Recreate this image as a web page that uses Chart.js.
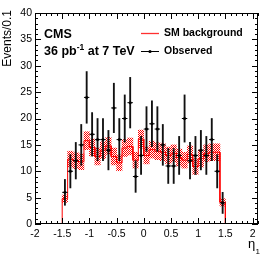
<!DOCTYPE html>
<html>
<head>
<meta charset="utf-8">
<script src="https://cdn.jsdelivr.net/npm/chart.js@4/dist/chart.umd.min.js"></script>
<style>
  html, body { margin: 0; padding: 0; background: #fff; }
  #wrap { width: 269px; height: 258px; position: relative; }
</style>
</head>
<body>
<div id="wrap"><canvas id="c" width="269" height="258"></canvas></div>
<script>
// ---- data ----
const binCenters = [-1.45,-1.35,-1.25,-1.15,-1.05,-0.95,-0.85,-0.75,-0.65,-0.55,
                    -0.45,-0.35,-0.25,-0.15,-0.05, 0.05, 0.15, 0.25, 0.35, 0.45,
                     0.55, 0.65, 0.75, 0.85, 0.95, 1.05, 1.15, 1.25, 1.35, 1.45];
const binWidth = 0.1;
const observed = [6,10,12,15,24,17,16,16,14,22,
                  16,20,23,9,13,18,19,18,15,11,
                  11,13,20,12,13,14,13,16,10,4];
const smBackground = [4.8,12.3,12.0,11.8,15.8,14.5,12.8,14.0,14.8,12.8,
                      11.6,14.4,14.7,12.1,16.1,13.0,14.1,13.8,13.6,13.0,
                      13.4,12.6,12.1,13.2,10.9,12.4,13.4,13.6,13.6,4.1];
const smUncertainty = [0.7,1.5,1.5,1.5,1.7,1.6,1.6,1.6,1.6,1.6,
                       1.5,1.6,1.6,1.5,1.7,1.6,1.6,1.6,1.6,1.6,
                       1.6,1.6,1.5,1.6,1.5,1.6,1.6,1.6,1.6,0.7];
const xLimits = [-2, 2.1];
const yLimits = [0, 40];
const xTickLabels = [-2,-1.5,-1,-0.5,0,0.5,1,1.5,2];
const yTickLabels = [0,5,10,15,20,25,30,35,40];

const FONT = '"Liberation Sans", Arial, Helvetica, sans-serif';

// hatched fill for the background uncertainty band
function hatchPattern() {
  const t = document.createElement('canvas');
  t.width = 2; t.height = 2;
  const g = t.getContext('2d');
  g.fillStyle = '#ff0000';
  g.fillRect(0, 0, 1, 1);
  g.fillRect(1, 1, 1, 1);
  return document.getElementById('c').getContext('2d').createPattern(t, 'repeat');
}

// step outline of the SM background histogram
const firstEdge = binCenters[0] - binWidth / 2;
const lastEdge = binCenters[binCenters.length - 1] + binWidth / 2;
const stepLine = [{x: xLimits[0], y: 0}, {x: firstEdge, y: 0}];
binCenters.forEach((c, i) => {
  stepLine.push({x: c - binWidth / 2, y: smBackground[i]});
  stepLine.push({x: c + binWidth / 2, y: smBackground[i]});
});
stepLine.push({x: lastEdge, y: 0});
stepLine.push({x: xLimits[1], y: 0});

const bandData = binCenters.map((c, i) => ({x: c, y: [smBackground[i] - smUncertainty[i], smBackground[i] + smUncertainty[i]]}));
const errData = binCenters.map((c, i) => ({x: c, y: [observed[i] - Math.sqrt(observed[i]), observed[i] + Math.sqrt(observed[i])]}));
const ptData = binCenters.map((c, i) => ({x: c, y: observed[i]}));

// inward ticks on all four sides + frame
const frameTicks = {
  id: 'frameTicks',
  afterDatasetsDraw(chart) {
    const {ctx, chartArea: a, scales: {x, y}} = chart;
    ctx.save();
    ctx.strokeStyle = '#000';
    ctx.lineWidth = 1;
    ctx.beginPath();
    for (let k = 0; k <= 41; k++) {
      const v = xLimits[0] + k * binWidth;
      if (v > xLimits[1] + 1e-9) break;
      const px = Math.round(x.getPixelForValue(v)) + 0.5;
      const major = Math.abs(v * 2 - Math.round(v * 2)) < 1e-6;
      const L = major ? 6 : 3;
      ctx.moveTo(px, a.bottom); ctx.lineTo(px, a.bottom - L);
      ctx.moveTo(px, a.top); ctx.lineTo(px, a.top + L);
    }
    for (let v = yLimits[0]; v <= yLimits[1]; v += 1) {
      const py = Math.round(y.getPixelForValue(v)) + 0.5;
      const L = v % 5 === 0 ? 6 : 3;
      ctx.moveTo(a.left, py); ctx.lineTo(a.left + L, py);
      ctx.moveTo(a.right, py); ctx.lineTo(a.right - L, py);
    }
    ctx.stroke();
    ctx.strokeRect(Math.round(a.left) + 0.5, Math.round(a.top) + 0.5,
                   Math.round(a.right - a.left) - 1, Math.round(a.bottom - a.top) - 1);
    ctx.restore();
  }
};

// labels, legend and axis titles
const annotations = {
  id: 'annotations',
  afterDraw(chart) {
    const ctx = chart.ctx;
    ctx.save();
    ctx.fillStyle = '#000';
    ctx.textBaseline = 'alphabetic';
    ctx.textAlign = 'left';
    // CMS label
    ctx.font = 'bold 12.5px ' + FONT;
    ctx.fillText('CMS', 44, 38);
    let xx = 44;
    ctx.fillText('36 pb', xx, 55);
    xx += ctx.measureText('36 pb').width;
    ctx.font = 'bold 8.5px ' + FONT;
    ctx.fillText('-1', xx, 50);
    xx += ctx.measureText('-1').width;
    ctx.font = 'bold 12.5px ' + FONT;
    ctx.fillText(' at 7 TeV', xx, 55);
    // legend
    ctx.font = 'bold 10.5px ' + FONT;
    ctx.textBaseline = 'middle';
    ctx.strokeStyle = '#ff3030';
    ctx.lineWidth = 1.3;
    ctx.beginPath(); ctx.moveTo(141, 33.5); ctx.lineTo(159, 33.5); ctx.stroke();
    ctx.fillText('SM background', 164, 33.5);
    ctx.strokeStyle = '#000';
    ctx.lineWidth = 1;
    ctx.beginPath(); ctx.moveTo(141, 51.5); ctx.lineTo(159, 51.5); ctx.stroke();
    ctx.beginPath(); ctx.arc(150, 51.5, 1.6, 0, Math.PI * 2); ctx.fill();
    ctx.fillText('Observed', 164, 51.5);
    // y title
    ctx.font = '12px ' + FONT;
    ctx.textBaseline = 'alphabetic';
    ctx.save();
    ctx.translate(11, 10);
    ctx.rotate(-Math.PI / 2);
    ctx.textAlign = 'right';
    ctx.fillText('Events/0.1', 0, 0);
    ctx.restore();
    // x title
    ctx.font = '13px ' + FONT;
    ctx.fillText('η', 248, 248);
    ctx.font = '8px ' + FONT;
    ctx.fillText('1', 255.5, 254);
    ctx.restore();
  }
};

new Chart(document.getElementById('c'), {
  type: 'scatter',
  data: {
    datasets: [
      { type: 'scatter', data: ptData, pointRadius: 1.5, pointBackgroundColor: '#000',
        pointBorderWidth: 0, order: 0 },
      { type: 'scatter', data: ptData, pointStyle: 'line', pointRadius: 2.7,
        pointBorderColor: '#000', pointBorderWidth: 1, order: 1 },
      { type: 'bar', data: errData, backgroundColor: '#111', barThickness: 1.2,
        grouped: false, borderWidth: 0, order: 2 },
      { type: 'line', data: stepLine, borderColor: '#ff0000', borderWidth: 1,
        pointRadius: 0, fill: false, tension: 0, order: 3 },
      { type: 'bar', data: bandData, backgroundColor: hatchPattern(), barPercentage: 1,
        categoryPercentage: 1, grouped: false, borderWidth: 0, order: 4 }
    ]
  },
  options: {
    responsive: false,
    devicePixelRatio: 1,
    animation: false,
    events: [],
    layout: { padding: { top: 13, right: 11, left: 0, bottom: 0 } },
    plugins: { legend: { display: false }, tooltip: { enabled: false } },
    scales: {
      x: {
        type: 'linear', min: xLimits[0], max: xLimits[1], offset: false,
        grid: { display: false, drawTicks: false },
        border: { display: false },
        afterFit(s) { s.height = 34; },
        afterBuildTicks(s) { s.ticks = xTickLabels.map(v => ({value: v})); },
        ticks: { padding: 4, autoSkip: false, maxRotation: 0, color: '#000',
                 font: { family: FONT, size: 10.5 }, callback: v => String(v) }
      },
      y: {
        type: 'linear', min: yLimits[0], max: yLimits[1],
        grid: { display: false, drawTicks: false },
        border: { display: false },
        afterFit(s) { s.width = 35; },
        afterBuildTicks(s) { s.ticks = yTickLabels.map(v => ({value: v})); },
        ticks: { padding: 3, color: '#000', font: { family: FONT, size: 10.5 },
                 callback: v => String(v) }
      }
    }
  },
  plugins: [frameTicks, annotations]
});
</script>
</body>
</html>
